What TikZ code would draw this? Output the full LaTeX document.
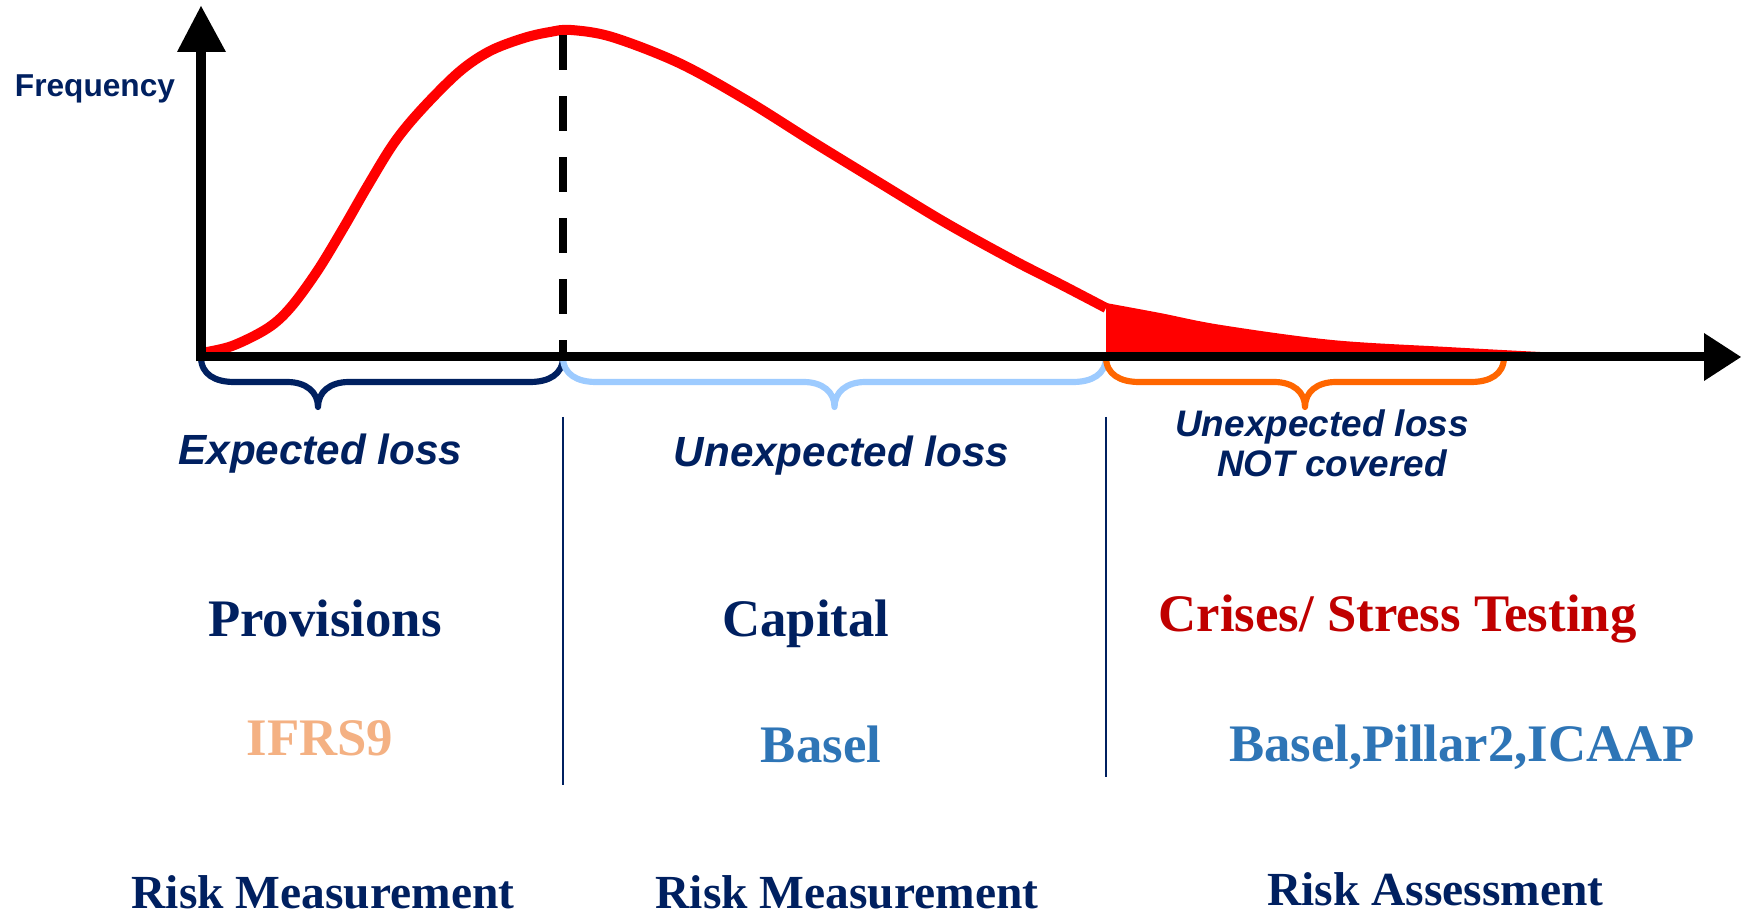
\documentclass[tikz,border=0pt]{standalone}
\usepackage{fontspec}
\setmainfont{Liberation Serif}
\newfontfamily\arialf{Liberation Sans}
\definecolor{navy}{HTML}{002060}
\definecolor{lightblue}{HTML}{9DCBFF}
\definecolor{braceorange}{HTML}{FF6600}
\definecolor{darkred}{HTML}{C00000}
\definecolor{ifrsorange}{HTML}{F4B183}
\definecolor{baselblue}{HTML}{2E75B6}
\begin{document}
\begin{tikzpicture}[x=0.01cm,y=-0.01cm,
  axisline/.style={line width=2.56pt, black},
  arrowtri/.style={fill=black, draw=none},
  redcurve/.style={line width=2.85pt, red},
  dashline/.style={line width=2.3pt, black, dash pattern=on 9.96pt off 7.4pt},
  bracepath/.style={line width=1.75pt, line cap=round, line join=round},
  sep/.style={line width=0.6pt, navy},
  sanslab/.style={anchor=base, inner sep=0pt, text=navy, font=\arialf\bfseries\itshape\fontsize{12}{14}\selectfont},
  sanssmall/.style={anchor=base, inner sep=0pt, text=navy, font=\arialf\bfseries\itshape\fontsize{10.5}{12}\selectfont},
  freqlab/.style={anchor=base, inner sep=0pt, text=navy, font=\arialf\bfseries\fontsize{9}{11}\selectfont},
  serifbig/.style={anchor=base, inner sep=0pt, font=\bfseries\fontsize{15}{17}\selectfont},
  serifsmall/.style={anchor=base, inner sep=0pt, text=navy, font=\bfseries\fontsize{13.5}{15}\selectfont}
]
\useasboundingbox[fill=white] (0,0) rectangle (1741,916);

% named reference points
\coordinate (O) at (201,357);
\coordinate (ytip) at (201,6);
\coordinate (xtip) at (1741,357);
\coordinate (peak) at (563,35);
\coordinate (tailstart) at (1106,357);

% red distribution curve
\draw[redcurve] plot[smooth, tension=0.55] coordinates {
  (201,353) (232,346) (268,328) (291,307) (318,270) (344,227) (367,187)
  (394,143) (421,110) (459,72) (490,51) (524,38) (550,32) (571,30)
  (612,37) (679,63) (746,100) (813,142) (880,183) (946,223) (1013,260)
  (1060,284) (1106,308)};
% red tail
\fill[red] (tailstart) -- (1106,303) -- plot[smooth, tension=0.55] coordinates {
  (1106,303) (1160,313) (1221,325) (1332,340) (1447,347) (1559,353)} -- (1559,357) -- cycle;

% dashed line
\draw[dashline] (peak) -- (O -| peak);

% braces
\draw[bracepath, navy] (201,357) .. controls (201,375) and (216,382) .. (234,382) -- (287,382)
  .. controls (306,382) and (318,392) .. (318,407) .. controls (318,392) and (330,382) .. (349,382)
  -- (530,382) .. controls (548,382) and (563,375) .. (563,357);
\draw[bracepath, lightblue] (563,357) .. controls (563,375) and (578,382) .. (596,382) -- (803.5,382)
  .. controls (822.5,382) and (834.5,392) .. (834.5,407) .. controls (834.5,392) and (846.5,382) .. (865.5,382)
  -- (1073,382) .. controls (1091,382) and (1106,375) .. (1106,357);
\draw[bracepath, braceorange] (1106,357) .. controls (1106,375) and (1121,382) .. (1139,382) -- (1274,382)
  .. controls (1293,382) and (1305,392) .. (1305,407) .. controls (1305,392) and (1317,382) .. (1336,382)
  -- (1471,382) .. controls (1489,382) and (1504,375) .. (1504,357);

% axes
\draw[axisline] (201,361.5) -- (201,50);
\fill[arrowtri] (177,52) -- (ytip) -- (226,52) -- cycle;
\draw[axisline] (196.5,357) -- (1706,357);
\fill[arrowtri] (1704,333) -- (xtip) -- (1704,381) -- cycle;

% separators
\draw[sep] (563,417) -- (563,785);
\draw[sep] (1106,417) -- (1106,777);

% labels
\node[freqlab] (freq) at (95,96.7) {Frequency};
\node[sanslab] (el) at (320.5,465) {Expected loss};
\node[sanslab] (ul) at (841.5,467) {Unexpected loss};
\node[sanssmall] (ulnc1) at (1322,436.7) {Unexpected loss};
\node[sanssmall] (ulnc2) at (1332,476.7) {NOT covered};

\node[serifbig, text=navy] (prov) at (325,637) {Provisions};
\node[serifbig, text=navy] (capital) at (806,637) {Capital};
\node[serifbig, text=darkred] (crises) at (1397.5,632) {Crises/ Stress Testing};

\node[serifbig, text=ifrsorange] (ifrs) at (320,756) {IFRS9};
\node[serifbig, text=baselblue] (basel) at (821,762.7) {Basel};
\node[serifbig, text=baselblue] (bpi) at (1462,761.7) {Basel,Pillar2,ICAAP};

\node[serifsmall] (rm1) at (323,909) {Risk Measurement};
\node[serifsmall] (rm2) at (847,909) {Risk Measurement};
\node[serifsmall] (ra) at (1435.6,906) {Risk Assessment};
\end{tikzpicture}
\end{document}
